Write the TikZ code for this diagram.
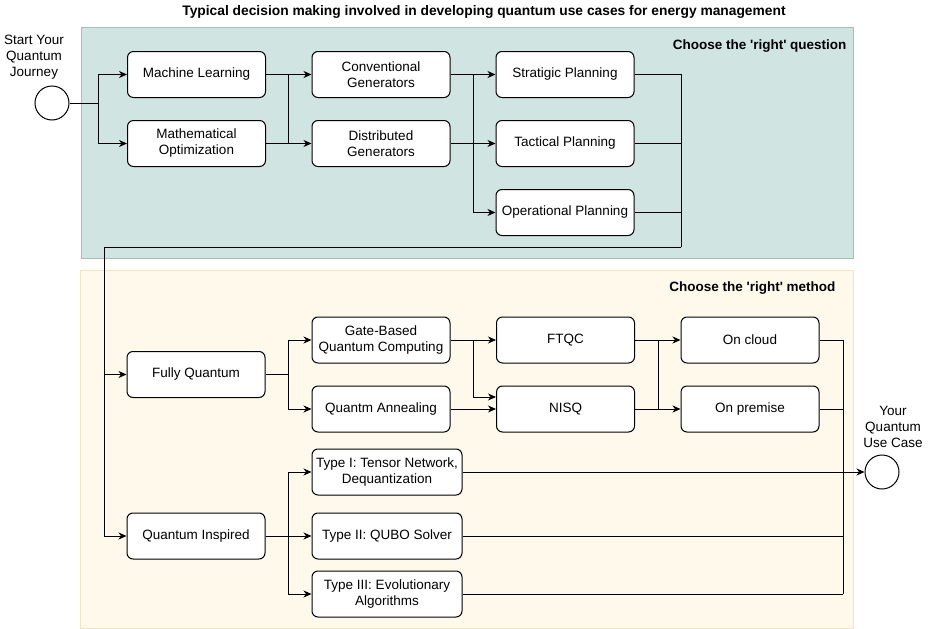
\documentclass[tikz,border=0pt]{standalone}
\usepackage{fontspec}
\setmainfont{Liberation Sans}[Ligatures=TeXOff]
\usepackage{xcolor}
\usepackage{tikz}
\usetikzlibrary{calc}
\usetikzlibrary{arrows.meta}
\definecolor{qteal}{HTML}{D0E4E1}
\definecolor{qtealline}{HTML}{A9BCB9}
\definecolor{qcream}{HTML}{FFF9EC}
\definecolor{qcreamline}{HTML}{F2E5BF}
\newcommand{\BoxW}{138pt}
\newcommand{\TypeW}{150pt}
\newcommand{\BoxH}{46pt}
\newcommand{\TxtFont}{\fontsize{13.5}{16}\selectfont}

\tikzset{
  stepbox/.style={draw, line width=1pt, rounded corners=6pt, fill=white,
    minimum width=\BoxW, minimum height=\BoxH, inner sep=1pt,
    align=center, font=\TxtFont},
  typebox/.style={stepbox, minimum width=\TypeW},
  endpoint/.style={draw, line width=1pt, circle, fill=white,
    minimum size=34pt, inner sep=0pt},
  link/.style={line width=1pt},
  arr/.style={link, -{Stealth[length=8pt, width=7pt, inset=2.5pt]}},
  heading/.style={font=\fontsize{13.5}{16}\selectfont\bfseries, anchor=east}
}

\begin{document}
\begin{tikzpicture}[x=1pt, y=-1pt]
\useasboundingbox (0,0) rectangle (929,629);

\node[font=\fontsize{13.8}{16}\selectfont\bfseries] (title) at (484,12)
  {Typical decision making involved in developing quantum use cases for energy management};

% panels
\draw[qtealline, fill=qteal] (81,27) rectangle (853,258);% question panel
\draw[qcreamline, fill=qcream] (80,270) rectangle (853,628);% method panel
\node[heading] (qhead) at (850,46) {Choose the 'right' question};
\node[heading] (mhead) at (839,288) {Choose the 'right' method};

% start / end
\node[endpoint] (start) at (52,103) {};
\node[align=center, font=\TxtFont] (startlbl) at (34,57) {Start Your\\Quantum\\Journey};
\node[endpoint] (usecase) at (882,472) {};
\node[align=center, font=\TxtFont] (uselbl) at (893,427) {Your\\Quantum\\Use Case};

% question boxes
\node[stepbox] (ml) at (196.5,74.5) {Machine Learning};
\node[stepbox] (mo) at (196.5,143.5) {Mathematical\\Optimization};
\node[stepbox] (cg) at (381,74.5) {Conventional\\Generators};
\node[stepbox] (dg) at (381,143.5) {Distributed\\Generators};
\node[stepbox] (sp) at (565,74.5) {Stratigic Planning};
\node[stepbox] (tp) at (565,143.5) {Tactical Planning};
\node[stepbox] (op) at (565,212.5) {Operational Planning};

% method boxes
\node[stepbox] (fq) at (196,374.5) {Fully Quantum};
\node[stepbox] (qi) at (196,536) {Quantum Inspired};
\node[stepbox] (gbqc) at (381,340) {Gate-Based\\Quantum Computing};
\node[stepbox] (qa) at (381,409) {Quantm Annealing};
\node[stepbox] (ftqc) at (565.5,340) {FTQC};
\node[stepbox] (nisq) at (565.5,409) {NISQ};
\node[stepbox] (cloud) at (750,340) {On cloud};
\node[stepbox] (premise) at (750,409) {On premise};
\node[typebox] (t1) at (387,472) {Type I: Tensor Network,\\Dequantization};
\node[typebox] (t2) at (387,536) {Type II: QUBO Solver};
\node[typebox] (t3) at (387,594) {Type III: Evolutionary\\Algorithms};

% junctions
\coordinate (j1) at (98,103);
\coordinate (j2) at (288,74.5);
\coordinate (j3) at (473,74.5);
\coordinate (c1) at (681,247);
\coordinate (d1) at (104,247);
\coordinate (f1) at (288,374.5);
\coordinate (g1) at (473,340);
\coordinate (n1) at (658,409);
\coordinate (q1) at (288,536);
\coordinate (o1) at (843,594);

% question flow
\draw[link] (start) -- (j1);
\draw[arr] (j1) |- (ml);
\draw[arr] (j1) |- (mo);
\draw[link] (ml) -- (j2) -- (j2 |- mo.east);
\draw[arr] (j2) -- (cg);
\draw[arr] (mo) -- (dg);
\draw[arr] (cg) -- (sp);
\draw[arr] (j3) |- (op);
\draw[arr] (dg) -- (tp);
\draw[link] (sp) -| (c1);
\draw[link] (tp) -- (tp -| c1);
\draw[link] (op) -- (op -| c1);

% method flow
\draw[arr] (c1) -- (d1) |- (fq);
\draw[arr] (d1) |- (qi);
\draw[link] (fq) -- (f1);
\draw[arr] (f1) |- (gbqc);
\draw[arr] (f1) |- (qa);
\draw[arr] (gbqc) -- (ftqc);
\draw[arr] (g1) |- ([yshift=12pt]nisq.west);
\draw[arr] (qa) -- (nisq);
\draw[link] (nisq) -- (n1) -- (n1 |- ftqc.east);
\draw[arr] (ftqc) -- (cloud);
\draw[arr] (n1) -- (premise);
\draw[link] (qi) -- (q1);
\draw[arr] (q1) |- (t1);
\draw[arr] (q1) |- (t3);
\draw[arr] (qi) -- (t2);
\draw[link] (cloud) -| (o1);
\draw[link] (premise) -- (premise -| o1);
\draw[link] (t2) -- (t2 -| o1);
\draw[link] (t3) -- (o1);
\draw[arr] (t1) -- (usecase);
\end{tikzpicture}
\end{document}
